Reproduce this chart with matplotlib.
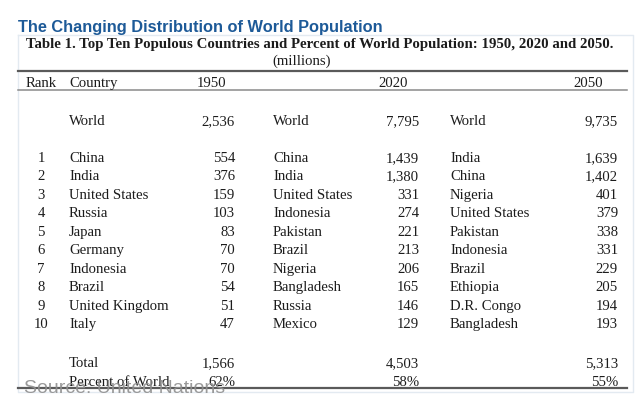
import numpy as np
import matplotlib
matplotlib.use("Agg")
from matplotlib import pyplot as plt
from matplotlib import font_manager

# table data (millions)
world_total = [2536, 7795, 9735]
countries_1950 = ["China", "India", "United States", "Russia", "Japan",
                  "Germany", "Indonesia", "Brazil", "United Kingdom", "Italy"]
pop_1950 = [554, 376, 159, 103, 83, 70, 70, 54, 51, 47]
countries_2020 = ["China", "India", "United States", "Indonesia", "Pakistan",
                  "Brazil", "Nigeria", "Bangladesh", "Russia", "Mexico"]
pop_2020 = [1439, 1380, 331, 274, 221, 213, 206, 165, 146, 129]
countries_2050 = ["India", "China", "Nigeria", "United States", "Pakistan",
                  "Indonesia", "Brazil", "Ethiopia", "D.R. Congo", "Bangladesh"]
pop_2050 = [1639, 1402, 401, 379, 338, 331, 229, 205, 194, 193]
totals = [1566, 4503, 5313]
percent_world = ["62%", "58%", "55%"]
years = ["1950", "2020", "2050"]

W, H = 643, 410
fig = plt.figure(figsize=(W / 100, H / 100), dpi=100)
ax = fig.add_axes([0, 0, 1, 1])
ax.set_xlim(0, W)
ax.set_ylim(H, 0)
ax.axis("off")

serif = "Liberation Serif"
ink = "#1c1c1c"
fs = 10.6

# the title font in the picture is a narrow grotesque; use a narrow face if there is one
installed = {f.name for f in font_manager.fontManager.ttflist}
if "Liberation Sans Narrow" in installed:
    title_font, title_size = "Liberation Sans Narrow", 14.5
else:
    title_font, title_size = "Liberation Sans", 11.8

# faint frame of the table image
ax.plot([18, 633, 633, 18, 18], [36, 36, 393, 393, 36], color="#e3eaf1", lw=1.0)

ax.text(18, 32, "The Changing Distribution of World Population",
        family=title_font, weight="bold",
        fontsize=title_size, color="#1d5a98", va="baseline", ha="left")

ax.text(26, 48, "Table 1. Top Ten Populous Countries and Percent of World Population: 1950, 2020 and 2050.",
        family=serif, weight="bold", fontsize=10.7, color=ink, va="baseline", ha="left")
ax.text(302, 65, "(millions)", family=serif, fontsize=fs, color=ink, va="baseline", ha="center")

# rules
ax.plot([18, 627], [72, 72], color="#5a5a5a", lw=1.6)
ax.plot([18, 627], [90.5, 90.5], color="#8a8a8a", lw=1.1)
ax.plot([18, 627], [389, 389], color="#5a5a5a", lw=1.6)

# header
hy = 87
ax.text(26, hy, "Rank", family=serif, fontsize=fs, color=ink, va="baseline")
ax.text(69, hy, "Country", family=serif, fontsize=fs, color=ink, va="baseline")
for xc, yr in zip([212, 393, 588], years):
    ax.text(xc, hy, yr, family=serif, fontsize=fs, color=ink, va="baseline", ha="center")

name_x = [69, 273, 450]
val_x = [235, 419, 618]

# world row
for nx, vx, v in zip(name_x, val_x, world_total):
    ax.text(nx, 125, "World", family=serif, fontsize=fs, color=ink, va="baseline")
    ax.text(vx, 125, f"{v:,}", family=serif, fontsize=fs, color=ink, va="baseline", ha="right")

# ranked rows
row0, step = 162, 18.44
cols = [(countries_1950, pop_1950), (countries_2020, pop_2020), (countries_2050, pop_2050)]
for i in range(10):
    y = row0 + i * step
    ax.text(41, y, str(i + 1), family=serif, fontsize=fs, color=ink, va="baseline", ha="center")
    for (names, vals), nx, vx in zip(cols, name_x, val_x):
        ax.text(nx, y, names[i], family=serif, fontsize=fs, color=ink, va="baseline")
        ax.text(vx, y, f"{vals[i]:,}", family=serif, fontsize=fs, color=ink, va="baseline", ha="right")

# totals
ax.text(69, 367, "Total", family=serif, fontsize=fs, color=ink, va="baseline")
ax.text(69, 386, "Percent of World", family=serif, fontsize=fs, color=ink, va="baseline")
for vx, t, p in zip(val_x, totals, percent_world):
    ax.text(vx, 367, f"{t:,}", family=serif, fontsize=fs, color=ink, va="baseline", ha="right")
    ax.text(vx, 386, p, family=serif, fontsize=fs, color=ink, va="baseline", ha="right")

ax.text(24, 393, "Source: United Nations", family="Liberation Sans", fontsize=14,
        color="#8f8f8f", alpha=0.9, va="baseline", ha="left")

fig.savefig("out.png", dpi=100)
